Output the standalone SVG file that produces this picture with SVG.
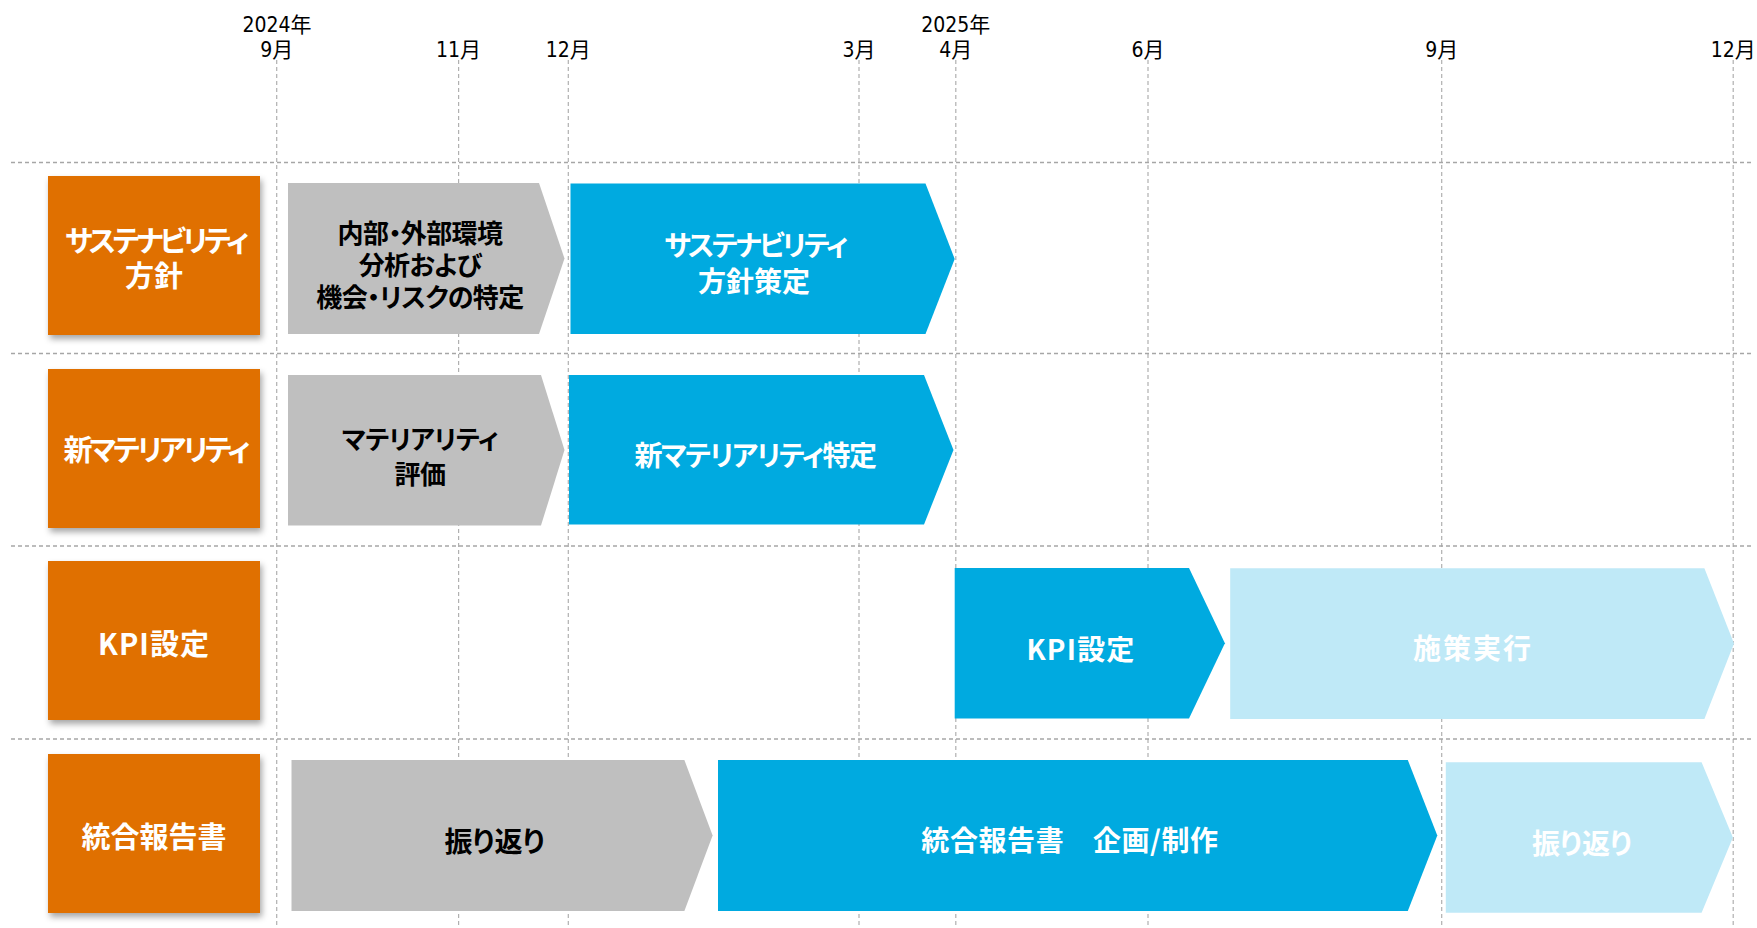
<svg xmlns="http://www.w3.org/2000/svg" width="1757" height="928" viewBox="0 0 1757 928">
<defs>
<filter id="sh" x="-10%" y="-10%" width="130%" height="130%">
<feDropShadow dx="2" dy="4" stdDeviation="3" flood-color="#000" flood-opacity="0.35"/>
</filter>
<style>
.hl{stroke:#a6a6a6;stroke-width:1.6;stroke-dasharray:4 3;fill:none}
.vl{stroke:#b0b0b0;stroke-width:1.2;stroke-dasharray:4 3;fill:none}
.tm{font-family:"DejaVu Sans Condensed","Noto Sans CJK JP",sans-serif;font-size:21px;fill:#000;text-anchor:middle}
.lab{font-family:"Noto Sans CJK JP",sans-serif;font-weight:bold;font-size:28px;text-anchor:middle;dominant-baseline:central;font-feature-settings:"palt"}
.big{font-size:29px}
.sm{font-size:26px;letter-spacing:-0.6px}
.w{fill:#fff}
.k{fill:#000}
.or{fill:#e07000}
.gr{fill:#bfbfbf}
.bl{fill:#00aae0}
.lb{fill:#bfe9f7}
</style>
</defs>
<rect width="1757" height="928" fill="#fff"/>
<g id="grid">
<line class="vl" x1="276.7" y1="60" x2="276.7" y2="928"/>
<line class="vl" x1="458.6" y1="60" x2="458.6" y2="928"/>
<line class="vl" x1="568.3" y1="60" x2="568.3" y2="928"/>
<line class="vl" x1="859" y1="60" x2="859" y2="928"/>
<line class="vl" x1="955.8" y1="60" x2="955.8" y2="928"/>
<line class="vl" x1="1148" y1="60" x2="1148" y2="928"/>
<line class="vl" x1="1441.7" y1="60" x2="1441.7" y2="928"/>
<line class="vl" x1="1733.2" y1="60" x2="1733.2" y2="928"/>
<line class="hl" x1="11" y1="162.5" x2="1752" y2="162.5"/>
<line class="hl" x1="11" y1="353.5" x2="1752" y2="353.5"/>
<line class="hl" x1="11" y1="546" x2="1752" y2="546"/>
<line class="hl" x1="11" y1="739" x2="1752" y2="739"/>
</g>
<g id="timeline">
<text class="tm" x="277" y="32">2024年</text>
<text class="tm" x="955.8" y="32">2025年</text>
<text class="tm" x="276.7" y="57">9月</text>
<text class="tm" x="458.6" y="57">11月</text>
<text class="tm" x="568.3" y="57">12月</text>
<text class="tm" x="859" y="57">3月</text>
<text class="tm" x="955.8" y="57">4月</text>
<text class="tm" x="1148" y="57">6月</text>
<text class="tm" x="1441.7" y="57">9月</text>
<text class="tm" x="1733.2" y="57">12月</text>
</g>
<g id="row-sustainability">
<rect class="or" x="48" y="176" width="212" height="159" filter="url(#sh)"/>
<text class="lab big w" x="155.5" y="239" letter-spacing="-3.4">サステナビリティ</text>
<text class="lab big w" x="154" y="274">方針</text>
</g>
<g id="task-env">
<polygon class="gr" points="288,183 539,183 564.5,258.5 539,334 288,334"/>
<text class="lab sm k" x="420" y="231.5">内部・外部環境</text>
<text class="lab sm k" x="420" y="263">分析および</text>
<text class="lab sm k" x="420" y="295">機会・リスクの特定</text>
</g>
<g id="task-policy">
<polygon class="bl" points="570.5,183.5 925.5,183.5 954.7,259 925.5,334 570.5,334"/>
<text class="lab w" x="755" y="244" letter-spacing="-2.4">サステナビリティ</text>
<text class="lab w" x="754" y="280">方針策定</text>
</g>
<g id="row-materiality">
<rect class="or" x="48" y="369" width="212" height="159" filter="url(#sh)"/>
<text class="lab big w" x="155.5" y="448" letter-spacing="-3">新マテリアリティ</text>
</g>
<g id="task-eval">
<polygon class="gr" points="288,375 541,375 564.5,450 541,525.5 288,525.5"/>
<text class="lab sm k" x="420" y="437">マテリアリティ</text>
<text class="lab sm k" x="420" y="472">評価</text>
</g>
<g id="task-mat">
<polygon class="bl" points="569,375 924,375 953.5,450 924,524.5 569,524.5"/>
<text class="lab w" x="755" y="454" letter-spacing="-1.6">新マテリアリティ特定</text>
</g>
<g id="row-kpi">
<rect class="or" x="48" y="561" width="212" height="159" filter="url(#sh)"/>
<text class="lab big w" x="154" y="642" letter-spacing="1">KPI設定</text>
</g>
<g id="task-kpi">
<polygon class="bl" points="954.7,568 1189,568 1224.9,643.3 1189,718.5 954.7,718.5"/>
<text class="lab w" x="1081" y="647.5" letter-spacing="1.2">KPI設定</text>
</g>
<g id="task-exec">
<polygon class="lb" points="1230.2,568.3 1704.4,568.3 1734,643.5 1704.4,719 1230.2,719"/>
<text class="lab w" x="1473" y="647" letter-spacing="2">施策実行</text>
</g>
<g id="row-report">
<rect class="or" x="48" y="754" width="212" height="159" filter="url(#sh)"/>
<text class="lab big w" x="154" y="835">統合報告書</text>
</g>
<g id="task-review1">
<polygon class="gr" points="291.5,760 684.4,760 712.6,835.5 684.4,911 291.5,911"/>
<text class="lab k" x="494.6" y="840">振り返り</text>
</g>
<g id="task-report">
<polygon class="bl" points="718,760 1407.8,760 1437.3,835.5 1407.8,911 718,911"/>
<text class="lab w" x="1070" y="839" letter-spacing="0.6">統合報告書　企画/制作</text>
</g>
<g id="task-review2">
<polygon class="lb" points="1445.8,762.3 1701.6,762.3 1732.9,837.5 1701.6,912.7 1445.8,912.7"/>
<text class="lab w" x="1582" y="841.5">振り返り</text>
</g>
<g id="connectors"/>
</svg>
